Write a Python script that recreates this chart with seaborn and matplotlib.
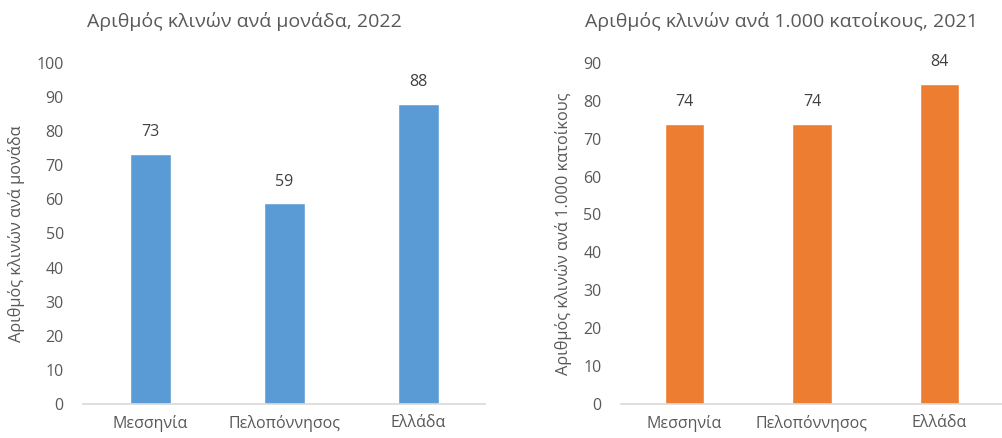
import seaborn as sns
import pandas as pd
import matplotlib.pyplot as plt

# data
regions = ['Μεσσηνία', 'Πελοπόννησος', 'Ελλάδα']
beds_per_unit = [73.3, 58.8, 87.9]
beds_per_1000 = [73.8, 73.9, 84.5]

title_left = 'Αριθμός κλινών ανά μονάδα, 2022'
title_right = 'Αριθμός κλινών ανά 1.000 κατοίκους, 2021'
ylabel_left = 'Αριθμός κλινών ανά μονάδα'
ylabel_right = 'Αριθμός κλινών ανά 1.000 κατοίκους'

sns.set_style('white')
plt.rcParams['font.family'] = ['Open Sans', 'DejaVu Sans']
grey = '#595959'

fig = plt.figure(figsize=(10.03, 4.38), dpi=100)
ax1 = fig.add_axes([0.083, 0.077, 0.401, 0.78])
ax2 = fig.add_axes([0.619, 0.077, 0.381, 0.78])

def draw(ax, values, color, title, ylabel, ymax, title_x):
    df = pd.DataFrame({'region': regions, 'value': values})
    sns.barplot(data=df, x='region', y='value', color=color, width=0.31,
                saturation=1, ax=ax)
    ax.set_ylim(0, ymax)
    ax.set_yticks(range(0, ymax + 1, 10))
    ax.set_xlim(-0.5, 2.5)
    ax.set_xlabel('')
    ax.set_ylabel(ylabel, color=grey, fontsize=11.8, labelpad=8)
    for s in ['top', 'right', 'left']:
        ax.spines[s].set_visible(False)
    ax.spines['bottom'].set_color('#D9D9D9')
    ax.spines['bottom'].set_linewidth(1.2)
    ax.tick_params(axis='both', colors=grey, labelsize=11.5, length=0)
    ax.tick_params(axis='y', pad=14)
    ax.tick_params(axis='x', pad=8)
    for i, v in enumerate(values):
        ax.annotate(f'{v:.0f}', (i, v), xytext=(0, 10),
                    textcoords='offset points', ha='center', va='bottom',
                    color='#404040', fontsize=11.5)
    ax.set_title(title, color=grey, fontsize=14, pad=26, x=title_x)

draw(ax1, beds_per_unit, '#5B9BD5', title_left, ylabel_left, 100, 0.40)
draw(ax2, beds_per_1000, '#ED7D31', title_right, ylabel_right, 90, 0.42)

fig.savefig('out.png', dpi=100)
